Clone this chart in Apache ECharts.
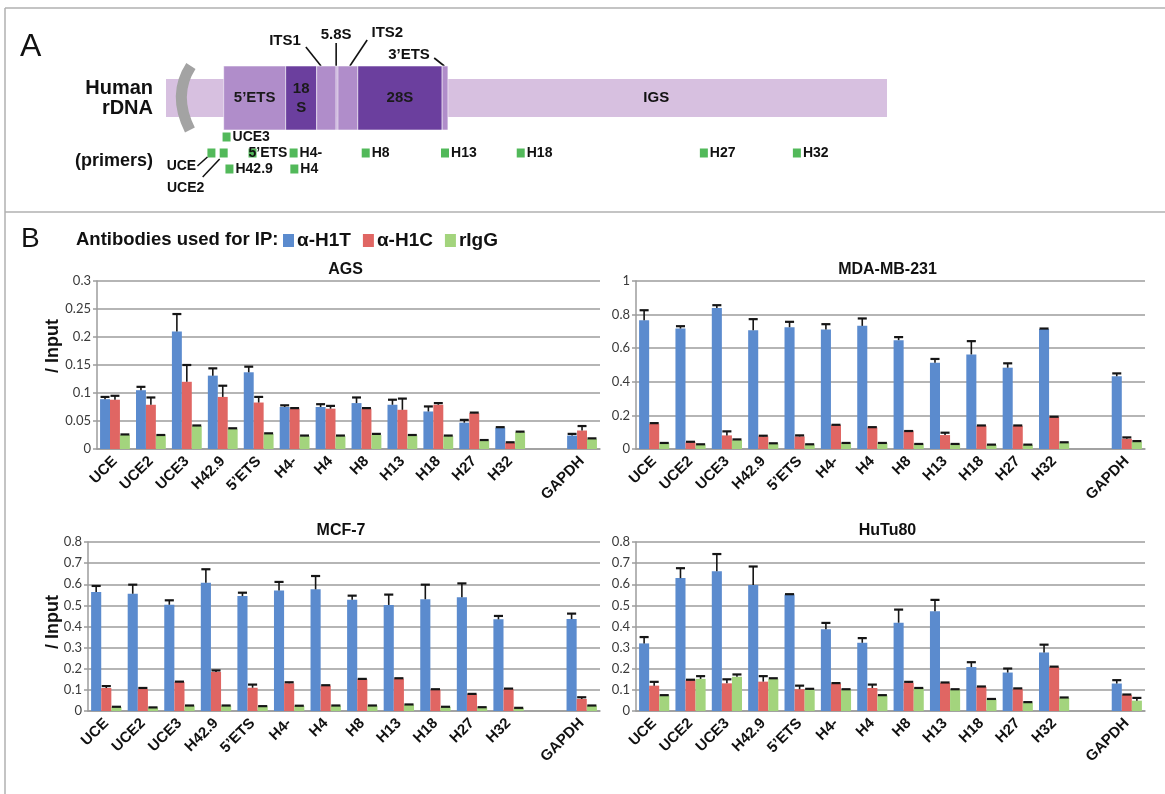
<!DOCTYPE html>
<html>
<head>
<meta charset="utf-8">
<title>H1T / H1C ChIP on human rDNA</title>
<script src="https://cdn.jsdelivr.net/npm/echarts@6/dist/echarts.min.js"></script>
<style>
  html, body { margin: 0; padding: 0; background: #fff; }
  #chart { width: 1165px; height: 794px; }
</style>
</head>
<body>
<div id="chart"></div>
<script>
// ---- panel B data (ChIP / Input) ----
const categories = ['UCE', 'UCE2', 'UCE3', 'H42.9', '5’ETS', 'H4-', 'H4', 'H8', 'H13', 'H18', 'H27', 'H32', '', 'GAPDH'];
const seriesNames = ['α-H1T', 'α-H1C', 'rIgG'];

const agsH1T = [0.089, 0.105, 0.210, 0.131, 0.137, 0.075, 0.075, 0.082, 0.079, 0.067, 0.047, 0.038, null, 0.024];
const agsH1TErr = [0.004, 0.006, 0.031, 0.013, 0.010, 0.003, 0.005, 0.010, 0.009, 0.009, 0.005, 0.001, null, 0.003];
const agsH1C = [0.088, 0.079, 0.120, 0.093, 0.083, 0.072, 0.072, 0.072, 0.070, 0.079, 0.064, 0.011, null, 0.033];
const agsH1CErr = [0.007, 0.013, 0.030, 0.020, 0.010, 0.001, 0.005, 0.001, 0.020, 0.003, 0.001, 0.001, null, 0.008];
const agsIgG = [0.025, 0.024, 0.041, 0.036, 0.027, 0.023, 0.023, 0.025, 0.024, 0.023, 0.015, 0.030, null, 0.018];
const agsIgGErr = [0.001, 0.001, 0.001, 0.001, 0.001, 0.001, 0.001, 0.002, 0.001, 0.001, 0.001, 0.001, null, 0.001];

const mdaH1T = [0.767, 0.717, 0.840, 0.707, 0.725, 0.711, 0.733, 0.648, 0.514, 0.563, 0.484, 0.715, null, 0.433];
const mdaH1TErr = [0.059, 0.014, 0.016, 0.066, 0.032, 0.032, 0.044, 0.018, 0.022, 0.079, 0.026, 0.002, null, 0.017];
const mdaH1C = [0.150, 0.040, 0.081, 0.075, 0.075, 0.142, 0.128, 0.105, 0.083, 0.138, 0.138, 0.190, null, 0.061];
const mdaH1CErr = [0.004, 0.003, 0.024, 0.004, 0.006, 0.002, 0.002, 0.002, 0.014, 0.002, 0.002, 0.002, null, 0.008];
const mdaIgG = [0.034, 0.026, 0.053, 0.032, 0.026, 0.034, 0.034, 0.028, 0.028, 0.024, 0.024, 0.038, null, 0.042];
const mdaIgGErr = [0.002, 0.002, 0.004, 0.002, 0.002, 0.002, 0.002, 0.002, 0.002, 0.002, 0.002, 0.002, null, 0.005];

const mcfH1T = [0.563, 0.555, 0.503, 0.607, 0.544, 0.571, 0.576, 0.527, 0.502, 0.529, 0.538, 0.434, null, 0.435];
const mcfH1TErr = [0.029, 0.043, 0.021, 0.064, 0.016, 0.040, 0.063, 0.019, 0.049, 0.069, 0.066, 0.016, null, 0.026];
const mcfH1C = [0.109, 0.104, 0.137, 0.185, 0.110, 0.131, 0.120, 0.150, 0.153, 0.101, 0.079, 0.104, null, 0.057];
const mcfH1CErr = [0.009, 0.005, 0.002, 0.007, 0.015, 0.005, 0.002, 0.002, 0.002, 0.002, 0.002, 0.002, null, 0.008];
const mcfIgG = [0.019, 0.016, 0.025, 0.025, 0.022, 0.024, 0.025, 0.025, 0.030, 0.019, 0.017, 0.014, null, 0.025];
const mcfIgGErr = [0.001, 0.001, 0.001, 0.001, 0.001, 0.001, 0.001, 0.001, 0.001, 0.001, 0.001, 0.001, null, 0.001];

const hutH1T = [0.320, 0.629, 0.662, 0.597, 0.551, 0.387, 0.323, 0.418, 0.472, 0.208, 0.182, 0.277, null, 0.130];
const hutH1TErr = [0.030, 0.047, 0.081, 0.087, 0.002, 0.030, 0.022, 0.062, 0.054, 0.023, 0.019, 0.037, null, 0.016];
const hutH1C = [0.120, 0.146, 0.131, 0.139, 0.103, 0.130, 0.109, 0.133, 0.133, 0.114, 0.105, 0.208, null, 0.076];
const hutH1CErr = [0.018, 0.002, 0.019, 0.026, 0.017, 0.002, 0.016, 0.005, 0.002, 0.002, 0.002, 0.002, null, 0.002];
const hutIgG = [0.073, 0.152, 0.162, 0.152, 0.101, 0.101, 0.073, 0.108, 0.101, 0.055, 0.040, 0.062, null, 0.049];
const hutIgGErr = [0.002, 0.013, 0.011, 0.003, 0.004, 0.002, 0.002, 0.001, 0.002, 0.002, 0.002, 0.002, null, 0.013];

// ---- panel A: rDNA map, positions in map units along the repeat (0..100) ----
const backbone = [0, 100];
const igsLabelAt = 68;
const breakMarkAt = [2.9];
const unitSegments = [
  ['5’ETS', 8.0, 16.6, 'spacer'],
  ['18\nS', 16.6, 20.9, 'rRNA'],
  ['', 20.9, 23.6, 'spacer'],   // ITS1
  ['', 23.6, 23.85, 'spacer'],  // 5.8S
  ['', 23.85, 26.6, 'spacer'],  // ITS2
  ['28S', 26.6, 38.3, 'rRNA'],
  ['', 38.3, 39.1, 'spacer']    // 3'ETS
];
// name, label position, leader top, leader target
const regionCallouts = [
  ['ITS1', 16.5, 19.4, 21.5],
  ['5.8S', 23.6, 23.6, 23.6],
  ['ITS2', 30.7, 27.9, 25.5],
  ['3’ETS', 33.7, 37.2, 38.6]
];
// name, map position, row
const primerSites = [
  ['UCE3', 8.4, 0], ['UCE', 6.3, 1], ['UCE2', 8.0, 1], ['H42.9', 8.8, 2],
  ['5’ETS', 12.0, 1], ['H4-', 17.7, 1], ['H4', 17.8, 2], ['H8', 27.7, 1],
  ['H13', 38.7, 1], ['H18', 49.2, 1], ['H27', 74.6, 1], ['H32', 87.5, 1]
];

const FONT = '"Liberation Sans", Arial, sans-serif';
const colors = ['#5b8bce', '#e06663', '#a3d47d'];

const panels = [
  { title: 'AGS', max: 0.3, interval: 0.05, vals: [agsH1T, agsH1C, agsIgG], errs: [agsH1TErr, agsH1CErr, agsIgGErr] },
  { title: 'MDA-MB-231', max: 1, interval: 0.2, vals: [mdaH1T, mdaH1C, mdaIgG], errs: [mdaH1TErr, mdaH1CErr, mdaIgGErr] },
  { title: 'MCF-7', max: 0.8, interval: 0.1, vals: [mcfH1T, mcfH1C, mcfIgG], errs: [mcfH1TErr, mcfH1CErr, mcfIgGErr] },
  { title: 'HuTu80', max: 0.8, interval: 0.1, vals: [hutH1T, hutH1C, hutIgG], errs: [hutH1TErr, hutH1CErr, hutIgGErr] }
];

const grids = [
  { left: 97, top: 281, width: 503, height: 168 },
  { left: 636, top: 281, width: 509, height: 168 },
  { left: 88, top: 542, width: 512, height: 169 },
  { left: 636, top: 542, width: 509, height: 169 },
  { left: 166, top: 0, width: 721, height: 213 }   // panel A
];

const GAP = 0.17;

function errorBars(gi, si, vals, errs) {
  return {
    type: 'custom',
    name: seriesNames[si] + ' err',
    xAxisIndex: gi,
    yAxisIndex: gi,
    z: 5,
    encode: { x: 0, y: 1 },
    data: vals.map((v, k) => (v == null ? null : [k, v, errs[k]])).filter(Boolean),
    renderItem: (params, api) => {
      const idx = api.value(0), v = api.value(1), e = api.value(2);
      const base = api.coord([idx, v]);
      const top = api.coord([idx, v + e]);
      const band = api.size([1, 0])[0];
      const barW = band * (1 - GAP) / 3;
      const x = base[0] + (si - 1) * barW;
      const half = barW * 0.45;
      return {
        type: 'group',
        children: [
          { type: 'line', shape: { x1: x, y1: base[1], x2: x, y2: top[1] }, style: { stroke: '#151515', lineWidth: 1.6 } },
          { type: 'line', shape: { x1: x - half, y1: top[1], x2: x + half, y2: top[1] }, style: { stroke: '#151515', lineWidth: 2.2 } }
        ]
      };
    }
  };
}

const series = [];
panels.forEach((p, gi) => {
  p.vals.forEach((vals, si) => {
    series.push({
      type: 'bar',
      name: seriesNames[si],
      xAxisIndex: gi,
      yAxisIndex: gi,
      data: vals,
      barGap: '0%',
      barCategoryGap: (GAP * 100) + '%',
      itemStyle: { color: colors[si] }
    });
  });
  p.vals.forEach((vals, si) => series.push(errorBars(gi, si, vals, p.errs[si])));
});

// panel A layout (pixel rows on the hidden schematic axis)
const UNIT_TOP = 66, UNIT_BOTTOM = 130, BB_TOP = 79, BB_BOTTOM = 117, MID = 98;
const ROWS = [137, 153, 169];
const lightPurple = '#d7c0e0', midPurple = '#b08dca', darkPurple = '#6b3f9e';

series.push({
  type: 'custom', xAxisIndex: 4, yAxisIndex: 4, silent: true,
  data: [backbone],
  renderItem: (params, api) => {
    const a = api.coord([api.value(0), BB_TOP]);
    const b = api.coord([api.value(1), BB_BOTTOM]);
    const t = api.coord([igsLabelAt, MID]);
    return {
      type: 'group', children: [
        { type: 'rect', shape: { x: a[0], y: a[1], width: b[0] - a[0], height: b[1] - a[1] }, style: { fill: lightPurple } },
        { type: 'text', style: { x: t[0], y: t[1], text: 'IGS', font: 'bold 15px ' + FONT, fill: '#111', align: 'center', verticalAlign: 'middle' } }
      ]
    };
  }
});

series.push({
  type: 'custom', xAxisIndex: 4, yAxisIndex: 4, silent: true,
  data: breakMarkAt.map(m => [m]),
  renderItem: (params, api) => {
    const top = api.coord([api.value(0), UNIT_TOP]);
    const bot = api.coord([api.value(0), UNIT_BOTTOM]);
    const x = top[0];
    return {
      type: 'bezierCurve',
      shape: { x1: x + 4, y1: top[1], cpx1: x - 9, cpy1: top[1] + 20, cpx2: x - 8, cpy2: bot[1] - 22, x2: x + 3, y2: bot[1], percent: 1 },
      style: { stroke: '#a3a3a3', lineWidth: 11, fill: null }
    };
  }
});

series.push({
  type: 'custom', xAxisIndex: 4, yAxisIndex: 4, silent: true, z: 3,
  data: unitSegments.map(s => [s[1], s[2]]),
  renderItem: (params, api) => {
    const seg = unitSegments[params.dataIndex];
    const a = api.coord([api.value(0), UNIT_TOP]);
    const b = api.coord([api.value(1), UNIT_BOTTOM]);
    const c = api.coord([(api.value(0) + api.value(1)) / 2, MID]);
    const children = [
      { type: 'rect', shape: { x: a[0], y: a[1], width: b[0] - a[0], height: b[1] - a[1] },
        style: { fill: seg[3] === 'rRNA' ? darkPurple : midPurple, stroke: 'rgba(255,255,255,0.55)', lineWidth: 1 } }
    ];
    if (seg[0]) {
      children.push({ type: 'text', style: { x: c[0], y: c[1], text: seg[0], font: 'bold 15px ' + FONT, fill: '#1a1a1a', align: 'center', verticalAlign: 'middle', lineHeight: 19 } });
    }
    return { type: 'group', children };
  }
});

// callout label heights for the region names above the unit
const calloutY = { 'ITS1': [41, 47], '5.8S': [35, 43], 'ITS2': [33, 40], '3’ETS': [55, 58] };
series.push({
  type: 'custom', xAxisIndex: 4, yAxisIndex: 4, silent: true,
  data: regionCallouts.map(c => [c[1], c[2], c[3]]),
  renderItem: (params, api) => {
    const c = regionCallouts[params.dataIndex];
    const ys = calloutY[c[0]];
    const lab = api.coord([api.value(0), ys[0]]);
    const l1 = api.coord([api.value(1), ys[1]]);
    const l2 = api.coord([api.value(2), UNIT_TOP]);
    return {
      type: 'group', children: [
        { type: 'text', style: { x: lab[0], y: lab[1], text: c[0], font: 'bold 15px ' + FONT, fill: '#111', align: 'center', verticalAlign: 'middle' } },
        { type: 'line', shape: { x1: l1[0], y1: l1[1], x2: l2[0], y2: l2[1] }, style: { stroke: '#111', lineWidth: 1.6 } }
      ]
    };
  }
});

// primer labels placed below-left with a leader line
const leaderLabels = { 'UCE': [-30, 13, -14, 13, -4, 4], 'UCE2': [-38, 35, -21, 24, -4, 6] };
series.push({
  type: 'custom', xAxisIndex: 4, yAxisIndex: 4, silent: true, z: 4,
  data: primerSites.map(p => [p[1], ROWS[p[2]]]),
  renderItem: (params, api) => {
    const p = primerSites[params.dataIndex];
    const c = api.coord([api.value(0), api.value(1)]);
    const children = [
      { type: 'rect', shape: { x: c[0] - 4, y: c[1] - 4.5, width: 8, height: 9 }, style: { fill: '#52b95a' } }
    ];
    const lead = leaderLabels[p[0]];
    if (lead) {
      children.push({ type: 'text', style: { x: c[0] + lead[0], y: c[1] + lead[1], text: p[0], font: 'bold 14px ' + FONT, fill: '#111', align: 'center', verticalAlign: 'middle' } });
      children.push({ type: 'line', shape: { x1: c[0] + lead[2], y1: c[1] + lead[3], x2: c[0] + lead[4], y2: c[1] + lead[5] }, style: { stroke: '#111', lineWidth: 1.5 } });
    } else {
      const dx = p[0] === '5’ETS' ? -4 : 6;
      children.push({ type: 'text', style: { x: c[0] + dx, y: c[1], text: p[0], font: 'bold 14px ' + FONT, fill: '#111', align: 'left', verticalAlign: 'middle' } });
    }
    return { type: 'group', children };
  }
});

const axisGray = '#9c9c9c';

const option = {
  animation: false,
  backgroundColor: '#fff',
  textStyle: { fontFamily: FONT },
  title: panels.map((p, i) => ({
    text: p.title,
    left: grids[i].left + grids[i].width / 2 - 3,
    top: grids[i].top - 19,
    textAlign: 'center',
    padding: 0,
    textStyle: { fontSize: 16, fontWeight: 'bold', color: '#111', fontFamily: FONT }
  })),
  legend: {
    data: seriesNames,
    left: 283,
    top: 231,
    padding: 0,
    icon: 'rect',
    itemWidth: 11,
    itemHeight: 13,
    itemGap: 12,
    selectedMode: false,
    textStyle: { fontSize: 19, fontWeight: 'bold', color: '#111', fontFamily: FONT, padding: [0, 0, 0, -2] }
  },
  grid: grids,
  xAxis: panels.map((p, i) => ({
    type: 'category',
    gridIndex: i,
    data: categories,
    axisLine: { lineStyle: { color: axisGray, width: 1.5 } },
    axisTick: { show: false },
    axisLabel: { interval: 0, rotate: 45, margin: 10, fontSize: 15, fontWeight: 'bold', color: '#111', fontFamily: FONT }
  })).concat([{ type: 'value', gridIndex: 4, min: 0, max: 100, show: false }]),
  yAxis: panels.map((p, i) => ({
    type: 'value',
    gridIndex: i,
    min: 0,
    max: p.max,
    interval: p.interval,
    axisLine: { show: true, lineStyle: { color: axisGray, width: 1.5 } },
    axisTick: { show: true, length: 4, lineStyle: { color: axisGray, width: 1.5 } },
    splitLine: { lineStyle: { color: axisGray, width: 1.5 } },
    axisLabel: { fontSize: 13, color: '#3a3a3a', margin: 6, fontFamily: 'Lato, "Open Sans", sans-serif' }
  })).concat([{ type: 'value', gridIndex: 4, min: 0, max: 213, inverse: true, show: false }]),
  series: series,
  graphic: [
    { type: 'line', shape: { x1: 5, y1: 8, x2: 1165, y2: 8 }, style: { stroke: '#b0b0b0', lineWidth: 1.5 } },
    { type: 'line', shape: { x1: 5, y1: 8, x2: 5, y2: 794 }, style: { stroke: '#b0b0b0', lineWidth: 1.5 } },
    { type: 'line', shape: { x1: 5, y1: 212, x2: 1165, y2: 212 }, style: { stroke: '#b0b0b0', lineWidth: 1.5 } },
    { type: 'text', style: { x: 20, y: 47, text: 'A', font: '32px ' + FONT, fill: '#111', verticalAlign: 'middle' } },
    { type: 'text', style: { x: 21, y: 239, text: 'B', font: '28px ' + FONT, fill: '#111', verticalAlign: 'middle' } },
    { type: 'text', style: { x: 153, y: 88, text: 'Human', font: 'bold 20px ' + FONT, fill: '#111', align: 'right', verticalAlign: 'middle' } },
    { type: 'text', style: { x: 153, y: 108, text: 'rDNA', font: 'bold 20px ' + FONT, fill: '#111', align: 'right', verticalAlign: 'middle' } },
    { type: 'text', style: { x: 153, y: 161, text: '(primers)', font: 'bold 18px ' + FONT, fill: '#111', align: 'right', verticalAlign: 'middle' } },
    { type: 'text', style: { x: 76, y: 240, text: 'Antibodies used for IP:', font: 'bold 18.5px ' + FONT, fill: '#111', verticalAlign: 'middle' } },
    { type: 'text', x: 53, y: 346, rotation: Math.PI / 2, style: { x: 0, y: 0, text: '/ Input', font: 'bold 18px ' + FONT, fill: '#111', align: 'center', verticalAlign: 'middle' } },
    { type: 'text', x: 53, y: 622, rotation: Math.PI / 2, style: { x: 0, y: 0, text: '/ Input', font: 'bold 18px ' + FONT, fill: '#111', align: 'center', verticalAlign: 'middle' } }
  ]
};

const chart = echarts.init(document.getElementById('chart'));
chart.setOption(option);
</script>
</body>
</html>
